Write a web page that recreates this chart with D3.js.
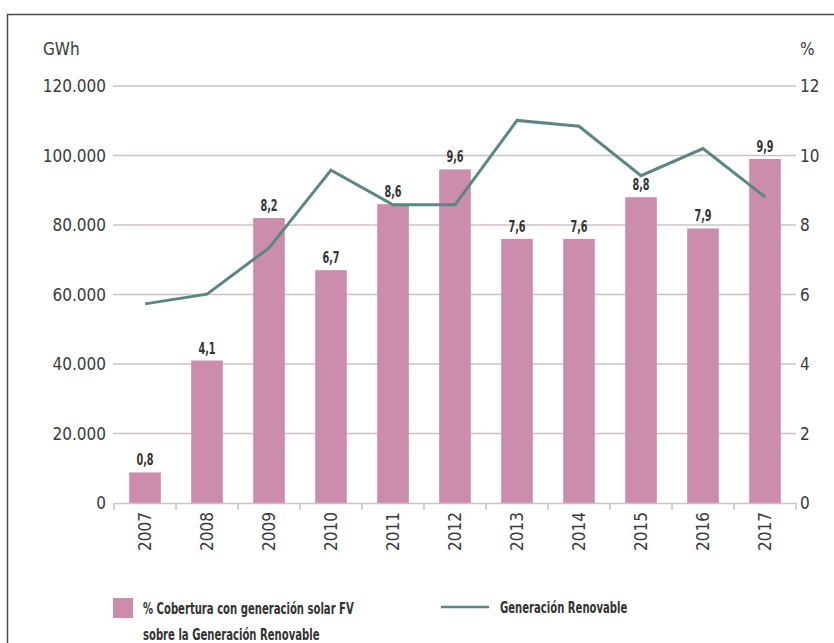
<!DOCTYPE html>
<html><head><meta charset="utf-8">
<script src="https://cdn.jsdelivr.net/npm/d3@7"></script>
<style>
html,body{margin:0;padding:0;background:#fff;}
svg{display:block;}
.tk{font-family:"DejaVu Sans Condensed","DejaVu Sans",sans-serif;font-stretch:condensed;font-size:17px;fill:#3a3a3a;}
.lb{font-family:"DejaVu Sans Condensed","DejaVu Sans",sans-serif;font-stretch:condensed;font-weight:bold;font-size:15px;fill:#333;}
.lg{font-family:"DejaVu Sans Condensed","DejaVu Sans",sans-serif;font-stretch:condensed;font-weight:bold;font-size:16px;fill:#333;}
</style></head>
<body>
<script>
const years = ["2007","2008","2009","2010","2011","2012","2013","2014","2015","2016","2017"];
const pctValues = [0.88, 4.1, 8.2, 6.7, 8.6, 9.6, 7.6, 7.6, 8.8, 7.9, 9.9];
const pctLabels = ["0,8","4,1","8,2","6,7","8,6","9,6","7,6","7,6","8,8","7,9","9,9"];
const gwhValues = [57300, 60100, 73400, 95800, 85800, 85800, 110100, 108400, 94200, 102000, 88100];
const leftTicks = [0, 20000, 40000, 60000, 80000, 100000, 120000];
const rightTicks = [0, 2, 4, 6, 8, 10, 12];
const legendBar = ["% Cobertura con generación solar FV", "sobre la Generación Renovable"];
const legendLine = "Generación Renovable";

const W = 834, H = 643;
const barColor = "#cc8dac", lineColor = "#5a8786", gridColor = "#cbc3c3";
const svg = d3.select("body").append("svg").attr("width", W).attr("height", H);

// frame
svg.append("path").attr("d", "M7.5,643 L7.5,14.5 L834,14.5").attr("fill","none").attr("stroke","#4a4a4a").attr("stroke-width",1.5);

const x = d3.scaleBand().domain(years).range([114, 796]).paddingInner(0.49).paddingOuter(0.245);
const yL = d3.scaleLinear().domain([0,120000]).range([503, 86]);
const yR = d3.scaleLinear().domain([0,12]).range([503, 86]);

// gridlines
svg.append("g").selectAll("line").data(leftTicks.slice(1)).join("line")
  .attr("x1",113).attr("x2",796).attr("y1",d=>yL(d)).attr("y2",d=>yL(d))
  .attr("stroke",gridColor).attr("stroke-width",1.5);

const fmt = d => d3.format(",")(d).replace(/,/g,".");
svg.append("g").selectAll("text").data(leftTicks).join("text").attr("class","tk")
  .attr("x",106).attr("y",d=>yL(d)).attr("dy","0.36em").attr("text-anchor","end").text(fmt);
svg.append("g").selectAll("text").data(rightTicks).join("text").attr("class","tk")
  .attr("x",800).attr("y",d=>yR(d)).attr("dy","0.36em").attr("text-anchor","start").text(d=>d);

svg.append("text").attr("class","tk").attr("x",43).attr("y",55).text("GWh");
svg.append("text").attr("class","tk").attr("x",800).attr("y",55).text("%");

// bars
svg.append("g").selectAll("rect").data(years).join("rect")
  .attr("x",d=>x(d)).attr("width",x.bandwidth())
  .attr("y",(d,i)=>yR(pctValues[i])).attr("height",(d,i)=>yR(0)-yR(pctValues[i]))
  .attr("fill",barColor);

// bar labels (horizontally condensed)
svg.append("g").selectAll("text").data(years).join("text").attr("class","lb")
  .attr("transform",(d,i)=>`translate(${x(d)+x.bandwidth()/2},${yR(pctValues[i])-7}) scale(0.72,1)`)
  .attr("text-anchor","middle").text((d,i)=>pctLabels[i]);

// x axis baseline + ticks
const xa = svg.append("g");
xa.append("line").attr("x1",114).attr("x2",796).attr("y1",503.5).attr("y2",503.5).attr("stroke",gridColor).attr("stroke-width",1.5);
const bounds = years.map(d=>x(d)-x.step()*x.paddingInner()/2).concat([796]);
xa.selectAll("line.t").data(bounds).join("line").attr("class","t")
  .attr("x1",d=>d).attr("x2",d=>d).attr("y1",503).attr("y2",510).attr("stroke",gridColor).attr("stroke-width",1.5);
xa.selectAll("text").data(years).join("text").attr("class","tk")
  .attr("transform",d=>`translate(${x(d)+x.bandwidth()/2},512) rotate(-90)`)
  .attr("dy","0.36em").attr("text-anchor","end").text(d=>d);

// line
const line = d3.line().x((d,i)=>x(years[i])+x.bandwidth()/2).y(d=>yL(d));
svg.append("path").datum(gwhValues).attr("d",line).attr("fill","none")
  .attr("stroke",lineColor).attr("stroke-width",3).attr("stroke-linejoin","miter");

// legend
svg.append("rect").attr("x",113).attr("y",598).attr("width",20).attr("height",20).attr("fill",barColor);
svg.append("g").selectAll("text").data(legendBar).join("text").attr("class","lg")
  .attr("transform",(d,i)=>`translate(143,${614+i*26}) scale(0.7,1)`).text(d=>d);
svg.append("line").attr("x1",441).attr("x2",489).attr("y1",607).attr("y2",607).attr("stroke",lineColor).attr("stroke-width",2.5);
svg.append("text").attr("class","lg").attr("transform","translate(500,613) scale(0.7,1)").text(legendLine);
</script>
</body></html>
